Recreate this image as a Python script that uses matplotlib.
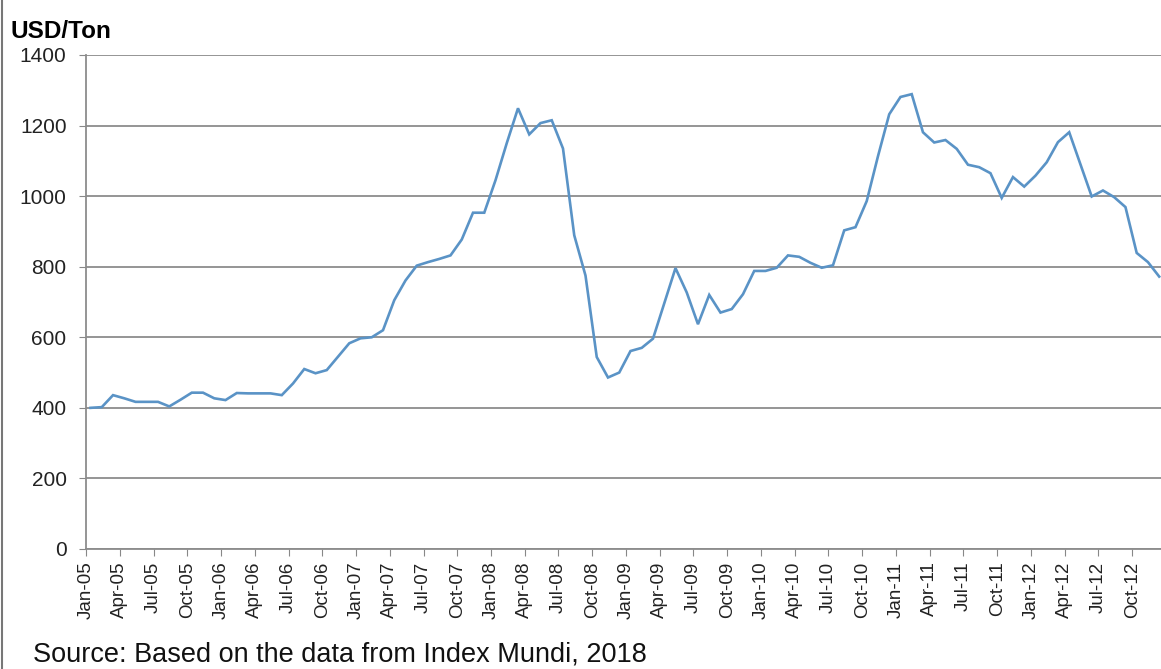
import numpy as np
import matplotlib
matplotlib.use('Agg')
import matplotlib.pyplot as plt

plt.rcParams['font.family'] = ['Liberation Sans', 'DejaVu Sans']

# monthly prices, Jan-05 .. Dec-12 (USD/Ton)
prices = [
    400, 402, 436, 427, 417, 417, 417, 404, 423, 443, 443, 427,   # 2005
    422, 442, 441, 441, 441, 436, 469, 510, 498, 507, 545, 583,   # 2006
    597, 600, 620, 705, 761, 803, 813, 822, 832, 877, 953, 953,   # 2007
    1045, 1150, 1249, 1175, 1207, 1215, 1135, 889, 775, 544, 486, 500,  # 2008
    561, 570, 596, 696, 796, 727, 637, 720, 670, 680, 722, 788,   # 2009
    788, 797, 832, 828, 811, 797, 804, 903, 912, 986, 1113, 1232,  # 2010
    1281, 1289, 1181, 1152, 1159, 1134, 1089, 1082, 1065, 995, 1054, 1027,  # 2011
    1058, 1096, 1153, 1181, 1090, 999, 1016, 997, 969, 839, 813, 772,  # 2012
]
months = ['Jan', 'Apr', 'Jul', 'Oct']
years = ['05', '06', '07', '08', '09', '10', '11', '12']
tick_labels = [m + '-' + y for y in years for m in months]
y_ticks = [0, 200, 400, 600, 800, 1000, 1200, 1400]

fig = plt.figure(figsize=(11.61, 6.69), dpi=100)
ax = fig.add_axes([0.0741, 0.1794, 0.9259, 0.7384])

# points sit mid-month, ticks on month start
x = np.arange(len(prices)) + 0.4
ax.plot(x, prices, color='#5a93c6', lw=1.9, solid_joinstyle='miter')

ax.set_xlim(0, 95.56)
ax.set_ylim(0, 1400)
ax.set_yticks(y_ticks)
ax.set_xticks(np.arange(0, 96, 3))
ax.set_xticklabels(tick_labels, rotation=90, fontsize=13.5, color='#222222')
ax.tick_params(axis='y', labelsize=15, length=5, color='#888888', pad=9,
               labelcolor='#222222')
ax.tick_params(axis='x', length=5, color='#888888', pad=4)
ax.grid(axis='y', color='#8c8c8c', lw=1.3)
ax.set_axisbelow(True)
for s in ['top', 'right']:
    ax.spines[s].set_visible(False)
for s in ['left', 'bottom']:
    ax.spines[s].set_color('#8c8c8c')
    ax.spines[s].set_linewidth(1.3)

fig.text(0.009, 0.953, 'USD/Ton', fontsize=17.5, fontweight='bold', va='center')
fig.text(0.028, 0.022, 'Source: Based on the data from Index Mundi, 2018',
         fontsize=19.5, va='center', color='#111111')
# screenshot frame on the left
fig.add_artist(plt.Line2D([0.0015, 0.0015], [0, 1], color='#777777', lw=1.5,
                          transform=fig.transFigure))

fig.savefig('out.png', dpi=100)
